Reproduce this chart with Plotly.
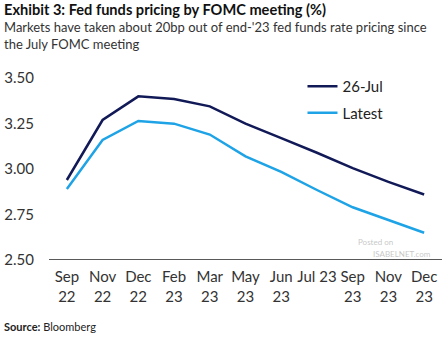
import plotly.graph_objects as go

# FOMC meeting dates and implied fed funds pricing (%)
meetings = ["Sep<br>22", "Nov<br>22", "Dec<br>22", "Feb<br>23", "Mar<br>23", "May<br>23",
            "Jun<br>23", "Jul 23", "Sep<br>23", "Nov<br>23", "Dec<br>23"]
jul26 = [2.94, 3.27, 3.40, 3.385, 3.345, 3.25, 3.17, 3.09, 3.005, 2.93, 2.86]
latest = [2.89, 3.16, 3.265, 3.25, 3.19, 3.07, 2.985, 2.885, 2.79, 2.72, 2.65]
y_ticks = [2.50, 2.75, 3.00, 3.25, 3.50]

FONT = "Lato, Roboto, sans-serif"
NAVY = "#111a57"
SKY = "#1ea3e6"

fig = go.Figure()
fig.add_trace(go.Scatter(x=meetings, y=jul26, mode="lines", name="26-Jul",
                         line=dict(color=NAVY, width=2.5), legendgroup="a"))
fig.add_trace(go.Scatter(x=meetings, y=latest, mode="lines", name="Latest",
                         line=dict(color=SKY, width=2.5), legendgroup="b"))

fig.update_layout(
    width=446, height=340,
    margin=dict(l=49, r=4, t=60, b=80),
    paper_bgcolor="white", plot_bgcolor="white",
    font=dict(family=FONT, size=14, color="#333333"),
    showlegend=True,
    legend=dict(x=0.645, y=0.95, xanchor="left", yanchor="top",
                bgcolor="rgba(0,0,0,0)", font=dict(family=FONT, size=15, color="#222222"),
                tracegroupgap=4),
    xaxis=dict(type="category", range=[-0.5, 10.5], showgrid=False,
               showline=False, ticks="", ticklabelstandoff=6,
               tickfont=dict(size=15, color="#333333")),
    yaxis=dict(range=[2.5, 3.6], tickvals=y_ticks, ticktext=[f"{v:.2f}" for v in y_ticks],
               showgrid=False, zeroline=False, showline=False, ticks="",
               ticklabelstandoff=14, tickfont=dict(size=15, color="#333333")),
    shapes=[dict(type="line", xref="paper", yref="y", x0=0, x1=1, y0=2.5, y1=2.5,
                 line=dict(color="#222222", width=1.5))],
    annotations=[
        dict(text="<b>Exhibit 3: Fed funds pricing by FOMC meeting (%)</b>",
             xref="paper", yref="paper", x=-47/393, y=1 + 50/199, xanchor="left", yanchor="middle",
             showarrow=False, font=dict(family=FONT, size=14.6, color="#111111")),
        dict(text="Markets have taken about 20bp out of end-'23 fed funds rate pricing since<br>the July FOMC meeting",
             xref="paper", yref="paper", x=-47/393, y=1 + 24/199, xanchor="left", yanchor="middle",
             align="left", showarrow=False, font=dict(family=FONT, size=13, color="#333333")),
        dict(text="<b>Source:</b> Bloomberg",
             xref="paper", yref="paper", x=-47/393, y=-66/199, xanchor="left", yanchor="middle",
             showarrow=False, font=dict(family=FONT, size=11, color="#222222")),
        dict(text="Posted on", xref="paper", yref="paper", x=0.78, y=0.09,
             xanchor="left", yanchor="middle", showarrow=False,
             font=dict(family=FONT, size=8, color="rgba(140,140,140,0.5)")),
        dict(text="ISABELNET.com", xref="paper", yref="paper", x=0.82, y=0.03,
             xanchor="left", yanchor="middle", showarrow=False,
             font=dict(family=FONT, size=8, color="rgba(140,140,140,0.5)")),
    ],
)

fig.write_html("out.html")
